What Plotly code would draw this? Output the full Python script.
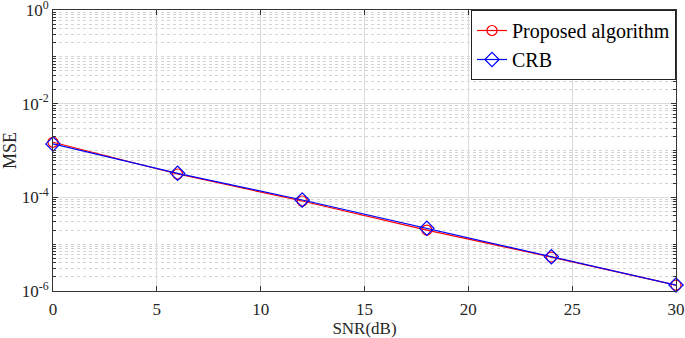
import plotly.graph_objects as go

snr = [0, 6, 12, 18, 24, 30]
mse_proposed = [1.50e-3, 3.15e-4, 8.35e-5, 2.0e-5, 5.3e-6, 1.33e-6]
mse_crb = [1.38e-3, 3.26e-4, 8.77e-5, 2.18e-5, 5.4e-6, 1.34e-6]
xtick_vals = [0, 5, 10, 15, 20, 25, 30]
ytick_vals = [1e-6, 1e-4, 1e-2, 1]
ytick_text = ["10<sup>-6</sup>", "10<sup>-4</sup>", "10<sup>-2</sup>", "10<sup>0</sup>"]

font_family = "Liberation Serif"
text_color = "#262626"

fig = go.Figure()
fig.add_trace(go.Scatter(
    x=snr, y=mse_proposed, mode="lines+markers", name="Proposed algorithm",
    line=dict(color="red", width=1.2),
    marker=dict(symbol="circle-open", size=10, color="red", line=dict(width=1.2)),
    cliponaxis=False,
))
fig.add_trace(go.Scatter(
    x=snr, y=mse_crb, mode="lines+markers", name="CRB",
    line=dict(color="blue", width=1.2),
    marker=dict(symbol="diamond-open", size=11, color="blue", line=dict(width=1.2)),
    cliponaxis=False,
))

fig.update_layout(
    width=685, height=338,
    margin=dict(l=53, r=9, t=10, b=47),
    paper_bgcolor="white", plot_bgcolor="white",
    font=dict(family=font_family, size=17, color=text_color),
    showlegend=True,
    legend=dict(x=1.0, y=1.0, xanchor="right", yanchor="top",
                bgcolor="white", bordercolor="#222", borderwidth=1,
                font=dict(family=font_family, size=20, color="black"), tracegroupgap=0,
                itemwidth=30),
)
fig.update_xaxes(
    range=[0, 30], tickvals=xtick_vals, automargin=False,
    ticklabeloverflow="allow", ticklabelstandoff=3,
    showline=True, linecolor="#333", linewidth=1, mirror="allticks",
    ticks="inside", ticklen=5, tickcolor="#333",
    showgrid=True, gridcolor="#dcdcdc", gridwidth=1,
    zeroline=False,
    title=dict(text="SNR(dB)", font=dict(family=font_family, size=17, color=text_color), standoff=3),
    tickfont=dict(family=font_family, size=17, color=text_color),
)
fig.update_yaxes(
    type="log", range=[-6, 0], tickvals=ytick_vals, ticktext=ytick_text,
    automargin=False, ticklabeloverflow="allow",
    showline=True, linecolor="#333", linewidth=1, mirror="allticks",
    ticks="inside", ticklen=5, tickcolor="#333",
    showgrid=True, gridcolor="#dcdcdc", gridwidth=1,
    minor=dict(ticks="inside", ticklen=3, tickcolor="#333", showgrid=True,
               gridcolor="#d4d4d4", griddash="dot", gridwidth=1, dtick="D1"),
    zeroline=False,
    title=dict(text="MSE", font=dict(family=font_family, size=18, color=text_color), standoff=6),
    tickfont=dict(family=font_family, size=17, color=text_color),
)

fig.write_html("out.html", config={"displayModeBar": False},
               post_script="document.body.style.margin='0';document.body.style.padding='0';")
